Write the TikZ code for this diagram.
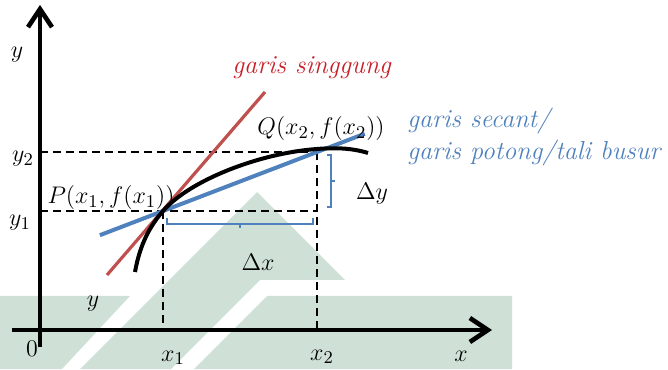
\documentclass[tikz,border=0pt]{standalone}
\usetikzlibrary{arrows.meta,calc}
\definecolor{tanred}{RGB}{192,80,77}
\definecolor{tantext}{RGB}{200,30,40}
\definecolor{secblue}{RGB}{79,129,189}
\definecolor{wmark}{RGB}{207,224,215}

\begin{document}
\begin{tikzpicture}[x=0.5pt,y=0.5pt,font=\fontsize{13}{16}\selectfont,
  axis/.style={line width=2.3pt,-{Straight Barb[length=9pt,width=12pt]}},
  guide/.style={line width=1.4pt,dash pattern=on 4pt off 2.5pt},
  curve/.style={line width=2pt},
  tangent/.style={line width=1.6pt,draw=tanred},
  secant/.style={line width=2pt,draw=secblue},
  bracket/.style={line width=0.9pt,draw=secblue},
  lbl/.style={inner sep=0pt}]
  \useasboundingbox (0,0) rectangle (668,369);
  % watermark in the back
  \fill[wmark] (0,73) -- (130,73) -- (62,0) -- (0,0) -- cycle;
  \fill[wmark] (257,177) -- (345,89) -- (260,89) -- (171,0) -- (80,0) -- cycle;
  \fill[wmark] (267,73) -- (512,73) -- (512,0) -- (194,0) -- cycle;
  % axes
  \coordinate (xs) at (12,39);
  \coordinate (xe) at (492,39);
  \coordinate (ys) at (40,22);
  \coordinate (ye) at (40,364);
  \draw[axis] (xs) -- (xe);
  \draw[axis] (ys) -- (ye);
  % the two points and their guides
  \coordinate (P) at (163,158);
  \coordinate (Q) at (317,217);
  \draw[guide] (P -| ye) -- (P -| Q);
  \draw[guide] (Q -| ye) -- (Q);
  \draw[guide] (P) -- (P |- xs);
  \draw[guide] (Q) -- (Q |- xs);
  % tangent, secant and curve
  \coordinate (t1) at (107,94);
  \coordinate (t2) at (265,277);
  \draw[tangent] (t1) -- (t2);
  \draw[secant] ($(P)!-0.41!(Q)$) -- ($(Q)!-0.31!(P)$);
  \draw[curve] (135,97) .. controls (140,125) and (150,143) .. (P)
    .. controls (190,189) and (260,216) .. (317,220)
    .. controls (335,221.5) and (352,221) .. (368,216);
  % brackets
  \draw[bracket] (167,151) -- (167,145) -- (313,145) -- (313,151);
  \draw[bracket] (240,145) -- (240,141);
  \draw[bracket] (327,214) -- (331,214) -- (331,162) -- (327,162);
  \draw[bracket] (331,188) -- (335,188);
  % labels
  \node[lbl] (ylab) at (17,314) {$y$};
  \node[lbl] (y2lab) at (23,210) {$y_2$};
  \node[lbl] (y1lab) at (20,146) {$y_1$};
  \node[lbl] (olab) at (32,20) {$0$};
  \node[lbl] (ystray) at (93,65) {$y$};
  \node[lbl] (x1lab) at (173,11) {$x_1$};
  \node[lbl] (x2lab) at (322,12) {$x_2$};
  \node[lbl] (xlab) at (461,13) {$x$};
  \node[lbl] (plab) at (111,171) {$P(x_1,f(x_1))$};
  \node[lbl] (qlab) at (321,240) {$Q(x_2,f(x_2))$};
  \node[lbl] (dy) at (372,175) {$\Delta y$};
  \node[lbl] (dx) at (258,107) {$\Delta x$};
  \node[lbl,text=tantext] (sing) at (312,301) {\textit{garis singgung}};
  \node[lbl,text=secblue,anchor=west,align=left] (sec) at (407,232)
    {\textit{garis secant/}\\\textit{garis potong/tali busur}};
\end{tikzpicture}
\end{document}
